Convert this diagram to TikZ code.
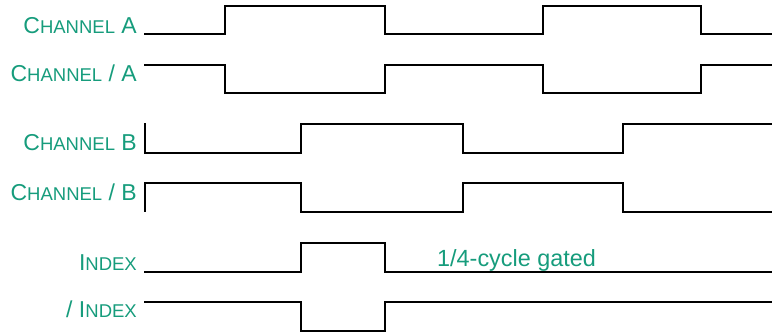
\documentclass[tikz,border=0pt]{standalone}
\usepackage{fontspec}
\setmainfont{Liberation Sans}
\usepackage{tikz}
\usetikzlibrary{positioning}
\definecolor{sigteal}{RGB}{22,156,124}
\newcommand{\smc}[1]{{\fontsize{18.5pt}{20pt}\selectfont #1}}

\begin{document}
\begin{tikzpicture}[x=1pt, y=-1pt, sig/.style={line width=1.7pt}, lbl/.style={anchor=base east, inner sep=0pt, text=sigteal, font=\fontsize{23pt}{26pt}\selectfont}]
  \useasboundingbox (0,0) rectangle (772,335);
  % labels
  \node[lbl] (labA) at (137,33) {C\smc{HANNEL} A};
  \node[lbl] (labnA) at (137,81.5) {C\smc{HANNEL} / A};
  \node[lbl] (labB) at (137,150.7) {C\smc{HANNEL} B};
  \node[lbl] (labnB) at (137,200.5) {C\smc{HANNEL} / B};
  \node[lbl] (labI) at (137,270) {I\smc{NDEX}};
  \node[lbl] (labnI) at (137,317) {/ I\smc{NDEX}};
  % waveforms
  \draw[sig] (144,34.3) -| (225,6) -| (385,34.3) -| (543,6) -| (701,34.3) -- (772,34.3);
  \draw[sig] (144,65.3) -| (225,93.3) -| (385,65.3) -| (543,93.3) -| (701,65.3) -- (772,65.3);
  \draw[sig] (145,123.3) |- (301,153.3) |- (463,124) |- (623,153.3) |- (772,124);
  \draw[sig] (145,211.7) |- (301,182.7) |- (463,211.7) |- (623,182.7) |- (772,211.7);
  \draw[sig] (144,272) -| (301,243) -| (385,272) -- (772,272);
  \draw[sig] (144,301.7) -| (301,331) -| (385,301.7) -- (772,301.7);
  \node[anchor=base west, inner sep=0pt, text=sigteal, font=\fontsize{23.4pt}{26pt}\selectfont] (gated) at (437,266.7) {1/4-cycle gated};
\end{tikzpicture}
\end{document}
